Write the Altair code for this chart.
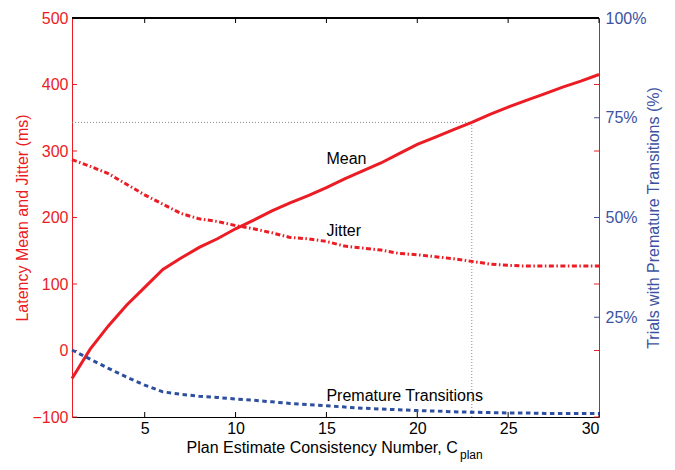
import altair as alt
import pandas as pd

# ---- data ----
c_plan = list(range(1, 31))
mean_ms = [-42, 2, 37, 68, 95, 122, 139, 155, 168, 183,
           196, 210, 222, 233, 245, 258, 270, 282, 296, 310,
           321, 332, 343, 355, 366, 376, 386, 396, 405, 415]
jitter_ms = [287, 277, 266, 250, 234, 220, 206, 198, 194, 188,
             183, 177, 170, 168, 164, 157, 154, 151, 146, 144,
             141, 138, 134, 130, 128, 127, 127, 127, 127, 127]
premature_pct = [16.8, 14.5, 12.2, 10.0, 8.0, 6.3, 5.7, 5.2, 4.9, 4.5,
                 4.2, 3.8, 3.4, 3.1, 2.8, 2.5, 2.2, 2.0, 1.8, 1.6,
                 1.5, 1.3, 1.2, 1.1, 1.0, 1.0, 0.9, 0.9, 0.9, 0.9]

x_ticks = [5, 10, 15, 20, 25, 30]
left_ticks = [-100, 0, 100, 200, 300, 400, 500]
right_ticks = [25, 50, 75, 100]

ref_c = [23]
ref_ms = [343]

labels_left = ["Mean", "Jitter"]
labels_left_x = [15, 15]
labels_left_y = [281, 172]
label_right = ["Premature Transitions"]
label_right_x = [15]
label_right_y = [4.0]

# ---- style ----
W, H = 527, 399
RED = "#ec1c24"
BLUE = "#2e4f9f"
BLUE_AX = "#3c52a2"
FONT = "Liberation Sans"

df = pd.DataFrame({"C": c_plan, "mean": mean_ms, "jitter": jitter_ms, "prem": premature_pct})
ref_df = pd.DataFrame({"x0": [1], "x1": ref_c, "y0": [-100], "y1": ref_ms})
lab_df = pd.DataFrame({"label": labels_left, "lx": labels_left_x, "ly": labels_left_y})
labr_df = pd.DataFrame({"label": label_right, "lx": label_right_x, "ly": label_right_y})
lt_df = pd.DataFrame({"t": left_ticks})
rt_df = pd.DataFrame({"t": [v for v in right_ticks if v < 100]})
xt_df = pd.DataFrame({"t": x_ticks})
sub_df = pd.DataFrame({"s": ["plan"], "sx": [22.35], "sy": [-163]})

x_scale = alt.Scale(domain=[1, 30], nice=False, zero=False)
x_axis = alt.Axis(values=x_ticks, tickSize=0, labelPadding=3, grid=False,
                  domainColor="black", labelColor="black", titleColor="black",
                  labelFontSize=16, titleFontSize=16, titleFontWeight="normal",
                  title="Plan Estimate Consistency Number, C",
                  titleAnchor="start", titleAlign="left", titleX=114, titleY=35,
                  titleBaseline="alphabetic")

yl_scale = alt.Scale(domain=[-100, 500], nice=False, zero=False)
yl_axis = alt.Axis(values=left_ticks, tickSize=0, labelPadding=4, grid=False,
                   domainColor=RED, labelColor=RED, titleColor=RED,
                   labelFontSize=16, titleFontSize=16, titleFontWeight="normal",
                   title="Latency Mean and Jitter (ms)", titlePadding=1)

yr_scale = alt.Scale(domain=[0, 100], nice=False, zero=False)
yr_axis = alt.Axis(orient="right", values=right_ticks, labelExpr="datum.value + '%'",
                   tickSize=0, labelPadding=6, grid=False,
                   domainColor=BLUE_AX, labelColor=BLUE_AX, titleColor=BLUE_AX,
                   labelFontSize=16, titleFontSize=16, titleFontWeight="normal",
                   title="Trials with Premature Transitions (%)",
                   titleAngle=270, titleBaseline="top", titlePadding=0)

X = alt.X("C:Q", scale=x_scale, axis=x_axis)

def YL(field):
    return alt.Y(field, scale=yl_scale, axis=yl_axis)

def YR(field):
    return alt.Y(field, scale=yr_scale, axis=yr_axis)

mean_line = alt.Chart(df).mark_line(color=RED, strokeWidth=3).encode(x=X, y=YL("mean:Q"))
jitter_line = alt.Chart(df).mark_line(color=RED, strokeWidth=3, strokeDash=[5, 2.5, 1.5, 2.5]).encode(
    x=X, y=YL("jitter:Q"))

hline = alt.Chart(ref_df).mark_rule(color="#8a8a8a", strokeWidth=1, strokeDash=[1, 2]).encode(
    x=alt.X("x0:Q", scale=x_scale, axis=x_axis), x2="x1:Q", y=YL("y1:Q"))
vline = alt.Chart(ref_df).mark_rule(color="#8a8a8a", strokeWidth=1, strokeDash=[1, 2]).encode(
    x=alt.X("x1:Q", scale=x_scale, axis=x_axis), y=YL("y0:Q"), y2="y1:Q")

texts = alt.Chart(lab_df).mark_text(align="left", baseline="alphabetic", fontSize=16,
                                    color="black", font=FONT).encode(
    x=alt.X("lx:Q", scale=x_scale, axis=x_axis), y=YL("ly:Q"), text="label:N")

sub_text = alt.Chart(sub_df).mark_text(align="left", baseline="alphabetic", fontSize=12,
                                       color="black", font=FONT).encode(
    x=alt.X("sx:Q", scale=x_scale, axis=x_axis), y=YL("sy:Q"), text="s:N")

lt_in = alt.Chart(lt_df).mark_rule(color=RED, strokeWidth=1).encode(
    y=YL("t:Q"), x=alt.value(0), x2=alt.value(5))
lt_right = alt.Chart(lt_df).mark_rule(color=RED, strokeWidth=1).encode(
    y=YL("t:Q"), x=alt.value(W - 5), x2=alt.value(W))
xt_bottom = alt.Chart(xt_df).mark_rule(color="black", strokeWidth=1).encode(
    x=alt.X("t:Q", scale=x_scale, axis=x_axis), y=alt.value(H - 5), y2=alt.value(H))
xt_top = alt.Chart(xt_df).mark_rule(color="black", strokeWidth=1).encode(
    x=alt.X("t:Q", scale=x_scale, axis=x_axis), y=alt.value(0), y2=alt.value(5))
top_border = alt.Chart(xt_df).mark_rule(color="black", strokeWidth=1).encode(
    x=alt.value(0), x2=alt.value(W), y=alt.value(0))

left_layer = alt.layer(hline, vline, jitter_line, mean_line, texts, sub_text,
                       lt_in, lt_right, xt_bottom, xt_top, top_border)

prem_line = alt.Chart(df).mark_line(color=BLUE, strokeWidth=3, strokeDash=[4.5, 3.5]).encode(
    x=X, y=YR("prem:Q"))
prem_text = alt.Chart(labr_df).mark_text(align="left", baseline="alphabetic", fontSize=16,
                                         color="black", font=FONT).encode(
    x=alt.X("lx:Q", scale=x_scale, axis=x_axis), y=YR("ly:Q"), text="label:N")
rt_in = alt.Chart(rt_df).mark_rule(color=BLUE_AX, strokeWidth=1).encode(
    y=YR("t:Q"), x=alt.value(W - 5), x2=alt.value(W))

right_layer = alt.layer(prem_line, prem_text, rt_in)

chart = alt.layer(left_layer, right_layer).resolve_scale(y="independent").properties(
    width=W, height=H,
    autosize=alt.AutoSizeParams(type="none"),
    padding={"left": 64, "top": 10, "right": 66, "bottom": 45},
    background="white",
).configure_view(strokeWidth=0).configure_axis(
    labelFont=FONT, titleFont=FONT
).configure_text(font=FONT)

chart.save("out.html", embed_options={"renderer": "svg", "actions": False})
